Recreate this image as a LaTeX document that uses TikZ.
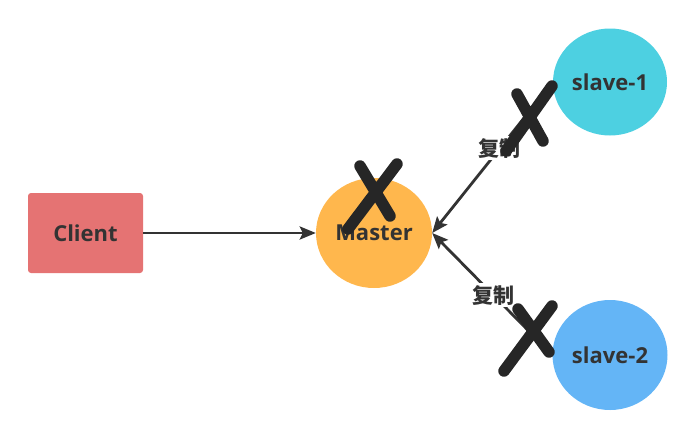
\documentclass[tikz,border=0pt]{standalone}
\usepackage{fontspec}
\setmainfont{Open Sans}
\newfontfamily\cjk{Noto Sans CJK SC}
\usetikzlibrary{shapes.geometric,arrows.meta}
\definecolor{clientred}{HTML}{E57373}
\definecolor{masterorange}{HTML}{FFB74D}
\definecolor{slavecyan}{HTML}{4DD0E1}
\definecolor{slaveblue}{HTML}{64B5F6}
\definecolor{inkgray}{HTML}{333333}
\definecolor{markblack}{HTML}{262626}
\begin{document}
\begin{tikzpicture}[x=1pt,y=-1pt,
    nodetext/.style={text=inkgray, font=\fontsize{22}{26}\selectfont\bfseries},
    hostbox/.style={nodetext, rectangle, rounded corners=3pt, fill=clientred, minimum width=115pt, minimum height=80pt, inner sep=0pt},
    hostdisc/.style={nodetext, ellipse, inner sep=0pt},
    conn/.style={draw=inkgray, line width=2.8pt, -{Stealth[length=16pt,width=13pt,inset=3pt]}},
    copylabel/.style={fill=white, text=inkgray, inner sep=2pt, font=\cjk\fontsize{21}{24}\selectfont\bfseries},
    crossmark/.style={draw=markblack, line width=11.5pt, line cap=round}]
		\useasboundingbox (0,0) rectangle (693,423);
		% Hosts
		\node[hostbox] (Client) at (85.5,233) {Client} ;
		\node[hostdisc, fill=masterorange, minimum width=116pt, minimum height=110pt] (Master) at (374,233) {Master} ;
		\node[hostdisc, fill=slavecyan, minimum width=114pt, minimum height=107pt] (Slave1) at (610,82) {slave-1} ;
		\node[hostdisc, fill=slaveblue, minimum width=115pt, minimum height=110pt] (Slave2) at (610,355) {slave-2} ;
		% Links
		\draw[conn] (Client) -- (Master) ;
		\draw[conn] (Slave1.west) -- node[copylabel, pos=0.44] (Copy1) {复制} (Master.east) ;
		\draw[conn] (Slave2.west) -- node[copylabel, pos=0.49] (Copy2) {复制} (Master.east) ;
		% Crossed out
		\draw[crossmark] (360,166) -- (390,216) (397,164) -- (348,229) ;
		\draw[crossmark] (517,94) -- (543,141) (552,86) -- (506,151) ;
		\draw[crossmark] (518,309) -- (549,352) (552,306) -- (504,371) ;
	\end{tikzpicture}
\end{document}
